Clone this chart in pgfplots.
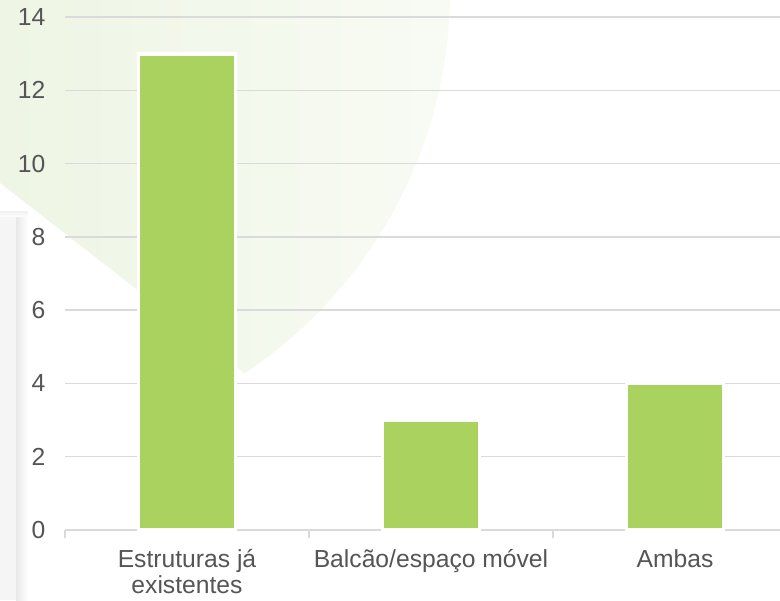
\documentclass[border=0pt]{standalone}
\usepackage{fontspec}
\setmainfont{Liberation Sans}
\usepackage{pgfplots}
\pgfplotsset{compat=1.18}

\definecolor{barc}{HTML}{A9D35E}
\definecolor{gridc}{HTML}{DADADA}
\definecolor{txt}{HTML}{555555}
\definecolor{bgg1}{HTML}{E3EFD3}
\definecolor{bgg2}{HTML}{F8FBF4}

\begin{document}
\begin{tikzpicture}
% page background decorations (pixels, origin top left, y downwards negative)
\begin{scope}[x=0.75pt, y=0.75pt]
  \fill[white] (0,0) rectangle (780,-600);
  \begin{scope}
    \clip (0,0) rectangle (780,-600);
    \shade[left color=bgg1, right color=bgg2] (-10,10) circle (460);
    \fill[white] (0,-183) -- (330,-440) -- (330,-600) -- (0,-600) -- cycle;
    \shade[bottom color=white, top color=black!6] (0,-217) rectangle (28,-211);
    \fill[black!4] (0,-217) rectangle (16,-600);
    \shade[left color=black!9, right color=white] (16,-217) rectangle (28,-600);
  \end{scope}
  \coordinate (org) at (65,-530);
  \coordinate (bbtl) at (0,0);
  \coordinate (bbbr) at (780,-600);
\end{scope}

\begin{axis}[
    at={(org)}, anchor=south west,
    x=183pt, y=27.48pt,
    xmin=-0.5, xmax=2.43,
    ymin=0, ymax=14,
    clip=false,
    axis x line*=bottom,
    axis y line*=left,
    y axis line style={draw=none},
    x axis line style={draw=gridc, line width=1.1pt},
    ytick={0,2,...,14},
    ymajorgrids,
    grid style={gridc, line width=1.1pt},
    major y tick style={draw=none},
    xtick={0,1,2},
    xticklabels={{\strut Estruturas já\\existentes}, {\strut Balcão/espaço móvel}, {\strut Ambas}},
    major x tick style={draw=none},
    minor xtick={-0.5,0.5,1.5},
    minor x tick style={draw=gridc, line width=1.1pt},
    minor tick length=6pt,
    tick align=outside,
    ticklabel style={font=\fontsize{18.5}{20}\selectfont, text=txt},
    xticklabel style={align=center, yshift=-6pt},
    yticklabel style={xshift=-7pt},
    /pgf/number format/assume math mode=true,
]
\addplot[ybar, bar width=72.75pt, fill=barc, draw=white, line width=2.8pt]
  coordinates {(0,13) (1,3) (2,4)};
\end{axis}
\pgfresetboundingbox
\useasboundingbox (bbtl) rectangle (bbbr);
\end{tikzpicture}
\end{document}
